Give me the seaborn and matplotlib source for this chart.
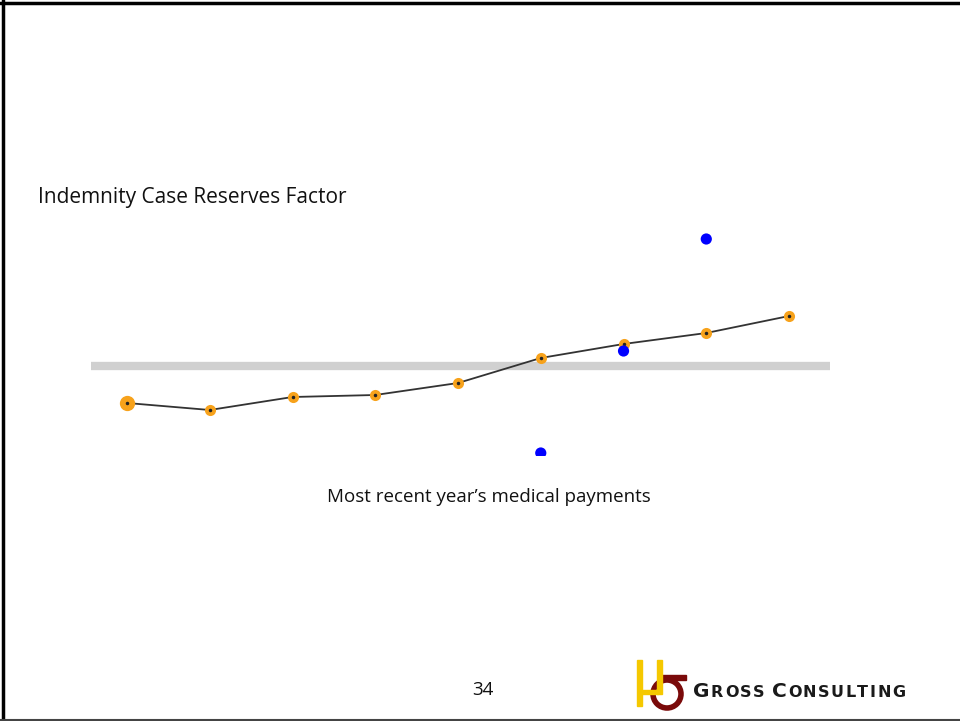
import numpy as np
import pandas as pd
import matplotlib
matplotlib.use("Agg")
import matplotlib.pyplot as plt
import seaborn as sns
from matplotlib.lines import Line2D
from matplotlib.patches import Rectangle, Ellipse

# data (arbitrary factor scale, grey band = 1.0)
periods = [1, 2, 3, 4, 5, 6, 7, 8, 9]
factor = [0.963, 0.956, 0.969, 0.971, 0.983, 1.008, 1.022, 1.033, 1.050]
sizes = [11, 8, 8, 8, 8, 8, 8, 8, 8]
outlier_periods = [6, 7, 8]
outlier_factor = [0.913, 1.015, 1.127]
baseline = 1.0

df = pd.DataFrame({"period": periods, "factor": factor})
df_out = pd.DataFrame({"period": outlier_periods, "factor": outlier_factor})

sns.set_style("white")
plt.rcParams["font.family"] = ["Open Sans", "DejaVu Sans"]

fig = plt.figure(figsize=(9.6, 7.21), dpi=100)
ax = fig.add_axes([91 / 960, 1 - 456 / 721, 739 / 960, 228 / 721])

ax.axhline(baseline, color="#d0d0d0", lw=6, zorder=1)
sns.lineplot(data=df, x="period", y="factor", color="#333333", lw=1.3, ax=ax, zorder=2)
for p, f, s in zip(periods, factor, sizes):
    ax.plot(p, f, "o", color="#f7a21b", ms=s, mec="none", zorder=3)
ax.plot(periods, factor, "o", color="#222222", ms=1.5, zorder=4)
sns.scatterplot(data=df_out, x="period", y="factor", color="#0000ff", s=65,
                edgecolor="none", ax=ax, zorder=5)

ax.set_xlim(0.565, 9.495)
ax.set_ylim(0.910, 1.138)
ax.set_xlabel("")
ax.set_ylabel("")
ax.set_xticks([])
ax.set_yticks([])
sns.despine(ax=ax, left=True, bottom=True)

# slide text
fig.text(38 / 960, 1 - 197 / 721, "Indemnity Case Reserves Factor",
         fontsize=15, va="center", ha="left", color="#111111")
fig.text(489 / 960, 1 - 497 / 721, "Most recent year\u2019s medical payments",
         fontsize=13.5, va="center", ha="center", color="#111111")
fig.text(483 / 960, 1 - 690 / 721, "34", fontsize=13.5, va="center", ha="center",
         color="#111111")

# "Gross Consulting" in wide small caps, letter by letter
renderer = fig.canvas.get_renderer()
xpos = 693
for word in ["GROSS", "CONSULTING"]:
    for i, ch in enumerate(word):
        fs = 14.5 if i == 0 else 11.5
        t = fig.text(xpos / 960, 1 - 697 / 721, ch, fontsize=fs, fontweight="bold",
                     va="baseline", ha="left", color="#1a1a1a", family="DejaVu Sans")
        xpos += t.get_window_extent(renderer).width + 1.5
    xpos += 6

# logo: dark red sigma behind yellow drips
red = "#7a0a0a"
fig.add_artist(Ellipse((667 / 960, 1 - 694 / 721), 28 / 960, 28 / 721,
                       transform=fig.transFigure, fill=False, ec=red, lw=4, zorder=4))
fig.patches.append(Rectangle((660 / 960, 1 - 680 / 721), 26 / 960, 5 / 721,
                             transform=fig.transFigure, color=red, zorder=4))
yellow = "#f5c800"
for x0, y0, h in [(637, 660, 46), (657, 660, 34)]:
    fig.patches.append(Rectangle((x0 / 960, 1 - (y0 + h) / 721), 5 / 960, h / 721,
                                 transform=fig.transFigure, color=yellow, zorder=5))
fig.patches.append(Rectangle((640 / 960, 1 - 694 / 721), 18 / 960, 4 / 721,
                             transform=fig.transFigure, color=yellow, zorder=5))

# slide frame
fig.add_artist(Line2D([3 / 960, 3 / 960], [0, 1], color="black", lw=2.5))
fig.add_artist(Line2D([0, 1], [1 - 3 / 721, 1 - 3 / 721], color="black", lw=2.5))
fig.add_artist(Line2D([0, 1], [1 / 721, 1 / 721], color="#444444", lw=1.5))

fig.savefig("out.png", dpi=100)
